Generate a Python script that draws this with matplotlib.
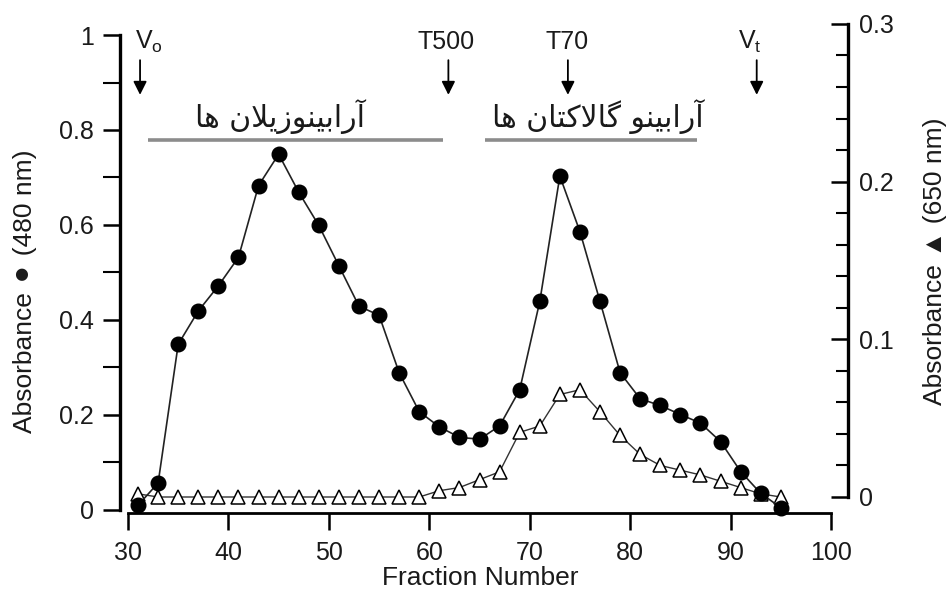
import numpy as np
import matplotlib
matplotlib.use('Agg')
import matplotlib.pyplot as plt

plt.rcParams['font.family'] = ['Liberation Sans', 'DejaVu Sans']

# fractions (odd numbers 31..95)
fractions = list(range(31, 97, 2))
# absorbance at 480 nm (filled circles, left axis)
abs480 = [0.01, 0.057, 0.349, 0.419, 0.472, 0.532, 0.683, 0.749, 0.669, 0.599,
          0.514, 0.429, 0.41, 0.289, 0.207, 0.175, 0.153, 0.149, 0.177, 0.253,
          0.439, 0.703, 0.586, 0.439, 0.289, 0.234, 0.220, 0.201, 0.183, 0.144,
          0.081, 0.035, 0.005]
# absorbance at 650 nm (open triangles, right axis)
abs650 = [0.002, 0.0, 0.0, 0.0, 0.0, 0.0, 0.0, 0.0, 0.0, 0.0,
          0.0, 0.0, 0.0, 0.0, 0.0, 0.004, 0.006, 0.011, 0.016, 0.041,
          0.045, 0.065, 0.068, 0.054, 0.039, 0.027, 0.020, 0.017, 0.014, 0.010,
          0.006, 0.002, 0.0]

markers = ['Vo', 'T500', 'T70', 'Vt']
marker_labels = [r'$\mathregular{V_o}$', 'T500', 'T70', r'$\mathregular{V_t}$']
marker_x = [31.2, 61.9, 73.8, 92.6]
label_x = [32.1, 61.7, 73.7, 91.9]

pools = ['آرابینوزیلان ها', 'آرابینو گالاکتان ها']
pool_ranges = [(32.0, 61.4), (65.5, 86.7)]
pool_text_x = [45.1, 76.8]


# minimal Persian shaping (matplotlib 3.10 has no complex text layout)
FORMS = {
    '\u0622': ('\uFE81', '\uFE82', None, None),
    '\u0627': ('\uFE8D', '\uFE8E', None, None),
    '\u0631': ('\uFEAD', '\uFEAE', None, None),
    '\u0632': ('\uFEAF', '\uFEB0', None, None),
    '\u0648': ('\uFEED', '\uFEEE', None, None),
    '\u0628': ('\uFE8F', '\uFE90', '\uFE91', '\uFE92'),
    '\u062A': ('\uFE95', '\uFE96', '\uFE97', '\uFE98'),
    '\u0646': ('\uFEE5', '\uFEE6', '\uFEE7', '\uFEE8'),
    '\u0644': ('\uFEDD', '\uFEDE', '\uFEDF', '\uFEE0'),
    '\u0647': ('\uFEE9', '\uFEEA', '\uFEEB', '\uFEEC'),
    '\u06CC': ('\uFBFC', '\uFBFD', '\uFBFE', '\uFBFF'),
    '\u06A9': ('\uFB8E', '\uFB8F', '\uFB90', '\uFB91'),
    '\u06AF': ('\uFB92', '\uFB93', '\uFB94', '\uFB95'),
}


def shape(s):
    chars = []
    i = 0
    while i < len(s):
        if s[i] == '\u0644' and i + 1 < len(s) and s[i + 1] == '\u0627':
            chars.append('LA')
            i += 2
        else:
            chars.append(s[i])
            i += 1
    out = []
    for k, c in enumerate(chars):
        prev = chars[k - 1] if k > 0 else None
        nxt = chars[k + 1] if k + 1 < len(chars) else None
        joins_prev = prev in FORMS and FORMS[prev][2] is not None
        if c == 'LA':
            out.append('\uFEFC' if joins_prev else '\uFEFB')
            continue
        if c not in FORMS:
            out.append(c)
            continue
        f = FORMS[c]
        joins_next = f[2] is not None and (nxt in FORMS or nxt == 'LA')
        if joins_prev and joins_next:
            out.append(f[3])
        elif joins_prev:
            out.append(f[1])
        elif joins_next:
            out.append(f[2])
        else:
            out.append(f[0])
    return ''.join(reversed(out))


ink = '#1a1a1a'
fig = plt.figure(figsize=(9.5, 5.9), dpi=100)
ax = fig.add_axes([120/950, 77/590, 728/950, 493/590])
ax2 = ax.twinx()
ax.set_zorder(2)
ax.patch.set_visible(False)

ax.set_xlim(29.2034, 101.69)
ax.set_ylim(-0.00632, 1.03158)
ax2.set_ylim(-0.010146, 0.30247)

ax2.plot(fractions, abs650, color='#333333', lw=1.0, marker='^', ms=9.5,
         mfc='white', mec='black', mew=1.1, clip_on=False)
ax.plot(fractions, abs480, color='#222222', lw=1.2, marker='o', ms=10.5,
        mfc='black', mec='black', clip_on=False)

# spines
for s in ['top', 'right']:
    ax.spines[s].set_visible(False)
for s in ['top', 'left', 'bottom']:
    ax2.spines[s].set_visible(False)
ax.spines['left'].set_bounds(0, 1)
ax.spines['left'].set_linewidth(2.4)
ax.spines['bottom'].set_bounds(30, 100)
ax.spines['bottom'].set_linewidth(2.0)
ax2.spines['right'].set_bounds(0, 0.3)
ax2.spines['right'].set_linewidth(2.4)

ax.set_xticks(range(30, 101, 10))
ax.set_yticks([0, 0.2, 0.4, 0.6, 0.8, 1.0])
ax.set_yticklabels(['0', '0.2', '0.4', '0.6', '0.8', '1'])
ax.set_yticks(np.arange(0.1, 1.0, 0.2), minor=True)
ax.tick_params(axis='both', which='major', length=12, width=1.8, labelsize=18,
               labelcolor=ink, pad=7)
ax.tick_params(axis='y', which='minor', length=12, width=1.5)
ax.tick_params(axis='x', pad=8)

ax2.set_yticks([0, 0.1, 0.2, 0.3])
ax2.set_yticklabels(['0', '0.1', '0.2', '0.3'])
ax2.set_yticks([v for v in np.arange(0.02, 0.3, 0.02) if abs(v * 10 - round(v * 10)) > 1e-6],
               minor=True)
ax2.tick_params(axis='y', which='major', direction='in', length=12, width=1.8,
                labelsize=18, labelcolor=ink, pad=8)
ax2.tick_params(axis='y', which='minor', direction='in', length=9, width=1.5)

ax.set_xlabel('Fraction Number', fontsize=19, color=ink)
ax.xaxis.set_label_coords(0.4945, -0.108)
ax.set_ylabel('Absorbance \u26AB (480 nm)', fontsize=19, color=ink, va='center')
ax.yaxis.set_label_coords(-0.131, 0.45)
ax2.set_ylabel('Absorbance \u25B2 (650 nm)', fontsize=19, color=ink, va='center',
               rotation=90)
ax2.yaxis.set_label_coords(1.119, 0.51)

# elution markers
for name, lab, mx, lx in zip(markers, marker_labels, marker_x, label_x):
    ax.annotate('', xy=(mx, 0.874), xytext=(mx, 0.947),
                arrowprops=dict(arrowstyle='-|>,head_length=0.8,head_width=0.4',
                                color='black', lw=1.3, shrinkA=0, shrinkB=0))
    ax.text(lx, 0.985, lab, ha='center', va='center', fontsize=18, color=ink)

# pools
for name, (a, b), tx in zip(pools, pool_ranges, pool_text_x):
    ax.plot([a, b], [0.779, 0.779], color='#8c8c8c', lw=2.6, solid_capstyle='butt')
    ax.text(tx, 0.806, shape(name), ha='center', va='baseline',
            fontsize=21.5, color=ink, family='DejaVu Sans')

fig.savefig('out.png', dpi=100)
